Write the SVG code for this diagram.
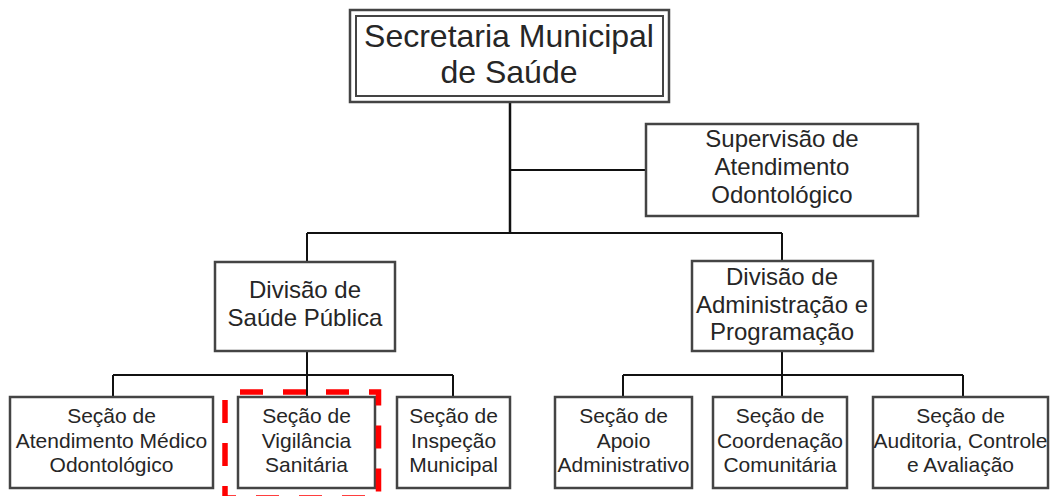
<svg xmlns="http://www.w3.org/2000/svg" width="1055" height="496" viewBox="0 0 1055 496">
<style>
.box{fill:#fff;stroke:#444;stroke-width:2.5}
.t{font-family:"Liberation Sans",Arial,sans-serif;fill:#262626;text-anchor:middle}
.t1{font-size:32px}
.t2{font-size:24px}
.t3{font-size:21px}
.c{stroke:#111;stroke-width:2;fill:none}
</style>
<rect width="1055" height="496" fill="#fff"/>
<g id="connectors">
<path class="c" d="M510 102V233" style="stroke-width:2.5"/>
<path class="c" d="M510 170H646"/>
<path class="c" d="M307 233H782M307 233V262M782 233V261"/>
<path class="c" d="M307 351V397M113 375H453M113 375V397M453 375V397"/>
<path class="c" d="M782 351V397M623 375H963M623 375V397M963 375V397"/>
</g>
<g id="secretaria">
<rect x="350" y="10" width="319" height="92" class="box"/>
<rect x="356" y="16" width="307" height="80" class="box" style="stroke-width:2"/>
<text class="t t1" x="509" y="47">Secretaria Municipal</text>
<text class="t t1" x="509" y="83">de Saúde</text>
</g>
<g id="supervisao">
<rect x="646" y="124" width="272" height="92" class="box"/>
<text class="t t2" x="782" y="147">Supervisão de</text>
<text class="t t2" x="782" y="175">Atendimento</text>
<text class="t t2" x="782" y="203">Odontológico</text>
</g>
<g id="divisao-saude">
<rect x="215" y="262" width="180" height="89" class="box"/>
<text class="t t2" x="305" y="298">Divisão de</text>
<text class="t t2" x="305" y="326">Saúde Pública</text>
</g>
<g id="divisao-admin">
<rect x="692" y="261" width="181" height="90" class="box"/>
<text class="t t2" x="782" y="285">Divisão de</text>
<text class="t t2" x="782" y="313">Administração e</text>
<text class="t t2" x="782" y="340">Programação</text>
</g>
<g id="secao-atendimento">
<rect x="10" y="397" width="203" height="91" class="box"/>
<text class="t t3" x="111.5" y="423">Seção de</text>
<text class="t t3" x="111.5" y="448">Atendimento Médico</text>
<text class="t t3" x="111.5" y="472">Odontológico</text>
</g>
<g id="secao-vigilancia">
<rect x="238" y="397" width="137" height="91" class="box"/>
<text class="t t3" x="306.5" y="423">Seção de</text>
<text class="t t3" x="306.5" y="448">Vigilância</text>
<text class="t t3" x="306.5" y="472">Sanitária</text>
</g>
<g id="secao-inspecao">
<rect x="397" y="397" width="113" height="91" class="box"/>
<text class="t t3" x="453.5" y="423">Seção de</text>
<text class="t t3" x="453.5" y="448">Inspeção</text>
<text class="t t3" x="453.5" y="472">Municipal</text>
</g>
<g id="secao-apoio">
<rect x="555" y="397" width="137" height="91" class="box"/>
<text class="t t3" x="623.5" y="423">Seção de</text>
<text class="t t3" x="623.5" y="448">Apoio</text>
<text class="t t3" x="623.5" y="472">Administrativo</text>
</g>
<g id="secao-coordenacao">
<rect x="713" y="397" width="134" height="91" class="box"/>
<text class="t t3" x="780" y="423">Seção de</text>
<text class="t t3" x="780" y="448">Coordenação</text>
<text class="t t3" x="780" y="472">Comunitária</text>
</g>
<g id="secao-auditoria">
<rect x="873" y="397" width="175" height="91" class="box"/>
<text class="t t3" x="960.5" y="423">Seção de</text>
<text class="t t3" x="960.5" y="448">Auditoria, Controle</text>
<text class="t t3" x="960.5" y="472">e Avaliação</text>
</g>
<g id="highlight">
<rect x="225" y="392" width="153.5" height="106" fill="none" stroke="#f00" stroke-width="5.5" stroke-dasharray="23 20" stroke-dashoffset="28"/>
</g>
</svg>
